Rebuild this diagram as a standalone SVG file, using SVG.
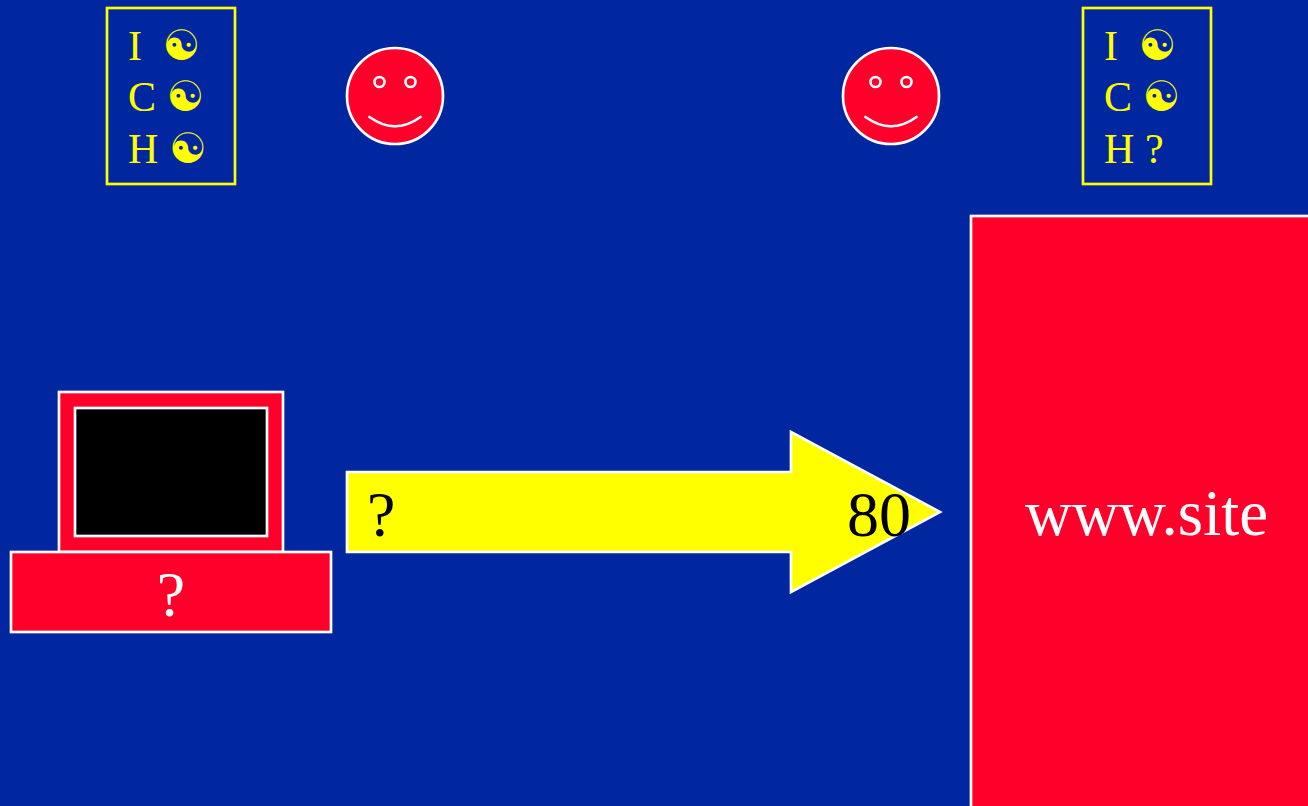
<svg xmlns="http://www.w3.org/2000/svg" width="1308" height="806" viewBox="0 0 1308 806">
<style>
.w{stroke:#fff;stroke-width:2.670}
.r{fill:#ff002b}
.card{fill:none;stroke:#ffff00;stroke-width:2.670}
text{font-family:"Liberation Serif","Times New Roman",serif}
.c{font-size:42px;fill:#ffff00}
.y{font-family:"DejaVu Sans",sans-serif}
.face{fill:#ff002b;stroke:#fff;stroke-width:2.670}
.smile{fill:none;stroke:#fff;stroke-width:2.670;stroke-linecap:round}
.big{font-size:64px}
</style>
<defs>
<g id="smiley">
<circle class="face" cx="48" cy="48" r="48"/>
<circle class="face" cx="32.500" cy="34" r="5"/>
<circle class="face" cx="63.500" cy="34" r="5"/>
<path class="smile" d="M22.500 69Q48 87.500 73.500 69"/>
</g>
</defs>
<rect width="1308" height="806" fill="#00279f"/>
<g id="card-left">
<rect class="card" x="107" y="8" width="128" height="176"/>
<text class="c" x="128" y="60">I</text><text class="c y" x="162.500" y="60">☯</text>
<text class="c" x="128" y="111">C</text><text class="c y" x="166.500" y="111">☯</text>
<text class="c" x="128" y="163">H</text><text class="c y" x="169" y="163">☯</text>
</g>
<g id="card-right">
<rect class="card" x="1083" y="8" width="128" height="176"/>
<text class="c" x="1104" y="60">I</text><text class="c y" x="1138.500" y="60">☯</text>
<text class="c" x="1104" y="111">C</text><text class="c y" x="1142.500" y="111">☯</text>
<text class="c" x="1104" y="163">H</text><text class="c" x="1145" y="163">?</text>
</g>
<g id="face-left"><use href="#smiley" x="347" y="48"/></g>
<g id="face-right"><use href="#smiley" x="843" y="48"/></g>
<g id="computer">
<rect class="r w" x="59" y="392" width="224" height="160"/>
<rect class="w" x="75" y="408" width="192" height="128" fill="#000"/>
<rect class="r w" x="11" y="552" width="320" height="80"/>
<text class="big" x="171" y="616" fill="#fff" text-anchor="middle">?</text>
</g>
<g id="connectors">
<g id="arrow">
<path class="w" fill="#ffff00" d="M347 472H791V432L940 512L791 592V552H347Z"/>
<text class="big" x="367" y="536" fill="#000">?</text>
<text class="big" x="847" y="536" fill="#000">80</text>
</g>
</g>
<g id="server">
<rect class="r w" x="971" y="216" width="345" height="600"/>
<text x="1025" y="535" font-size="65" fill="#fff">www.site</text>
</g>
</svg>
